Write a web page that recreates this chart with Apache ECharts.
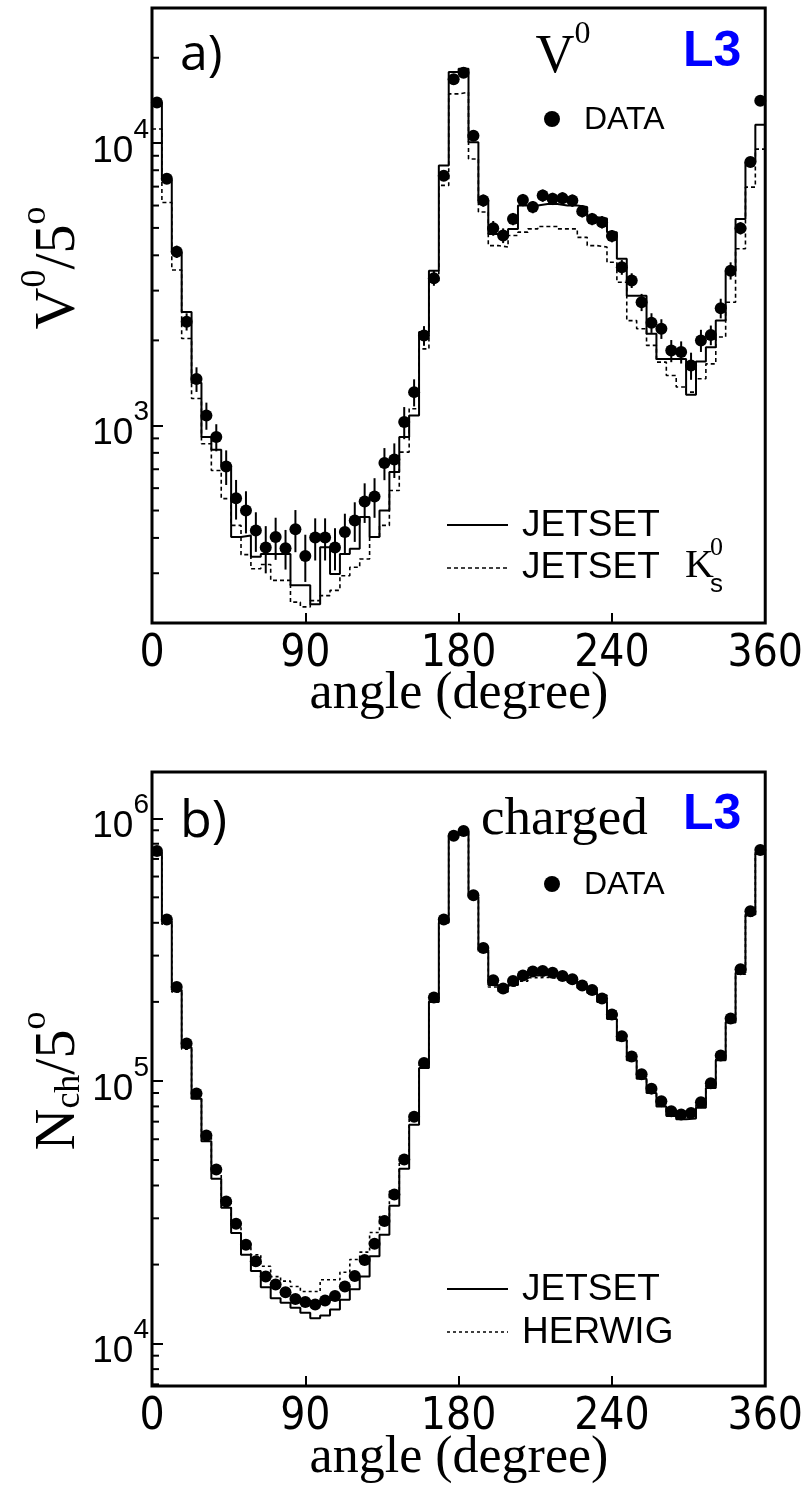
<!DOCTYPE html>
<html>
<head>
<meta charset="utf-8">
<script src="https://cdn.jsdelivr.net/npm/echarts@6/dist/echarts.min.js"></script>
<style>
html, body { margin: 0; padding: 0; background: #fff; }
#main { width: 806px; height: 1492px; }
</style>
</head>
<body>
<div id="main"></div>
<script>
// x axis: 0..360, tick labels as printed in the figure
var xTickLabels = ['0', '90', '180', '240', '360'];
var binCount = 62;

// a) V0
var v0Data = [13900, 7460, 4120, 2330, 1460, 1085, 910, 716, 553, 500,
        425, 370, 403, 368, 429, 345, 401, 401, 370, 420,
        461, 538, 561, 736, 758, 1028, 1312, 2080, 3320, 7650,
        16800, 17700, 10600, 6250, 4990, 4700, 5380, 6280, 5930, 6510,
        6340, 6370, 6250, 5730, 5380, 5240, 4680, 3630, 3260, 2730,
        2310, 2200, 1840, 1820, 1630, 2000, 2090, 2600, 3530, 4990,
        8550, 14100];
var v0DataErr = [0.03, 0.04, 0.05, 0.07, 0.10, 0.11, 0.11, 0.14, 0.16, 0.17,
        0.16, 0.19, 0.17, 0.16, 0.17, 0.19, 0.17, 0.17, 0.17, 0.16,
        0.16, 0.16, 0.16, 0.13, 0.14, 0.13, 0.11, 0.08, 0.06, 0.04,
        0.03, 0.03, 0.04, 0.05, 0.06, 0.06, 0.05, 0.05, 0.05, 0.05,
        0.05, 0.05, 0.05, 0.05, 0.05, 0.05, 0.05, 0.06, 0.06, 0.07,
        0.08, 0.08, 0.09, 0.09, 0.11, 0.09, 0.08, 0.08, 0.07, 0.05,
        0.04, 0.03];
var v0Jetset = [13800, 7400, 4100, 2520, 1416, 910, 820, 722, 403, 408,
        343, 351, 351, 351, 272, 272, 233, 371, 298, 351,
        366, 474, 403, 500, 684, 910, 1085, 2140, 3530, 8320,
        17800, 18300, 10050, 6250, 4760, 4760, 4960, 6000, 6000, 6080,
        6080, 6000, 6000, 5930, 5460, 5400, 4830, 3890, 2880, 2880,
        2110, 1720, 1720, 1720, 1284, 1683, 1890, 2350, 3530, 5380,
        8550, 11600];
var v0K0s = [11200, 6150, 3550, 2030, 1245, 862, 693, 551, 443, 349,
        311, 322, 283, 283, 237, 228, 240, 250, 261, 294,
        315, 337, 403, 443, 589, 805, 1146, 1867, 3210, 7070,
        14900, 15100, 8770, 5690, 4330, 4280, 4700, 4830, 4960, 5060,
        5060, 4960, 4960, 4630, 4330, 4280, 3780, 3210, 2350, 2200,
        1920, 1675, 1503, 1368, 1312, 1463, 1652, 2055, 2730, 4220,
        6970, 9500];
var v0MinorTicks = [200, 300, 400, 500, 600, 700, 800, 900,
        2000, 3000, 4000, 5000, 6000, 7000, 8000, 9000, 20000];

// b) charged
var nchData = [750000, 412000, 228000, 139000, 89600, 62000, 46000, 34800, 28600, 23800,
        20600, 18000, 16800, 15700, 14800, 14400, 14100, 14600, 15200, 16500,
        18100, 20800, 24000, 29300, 37000, 50200, 73100, 117000, 208000, 412000,
        857000, 895000, 509000, 321000, 242000, 225000, 240000, 252000, 261000, 262000,
        258000, 251000, 244000, 231000, 222000, 206000, 179000, 148000, 124000, 106000,
        93500, 83800, 76700, 74600, 75600, 83000, 98000, 125000, 173000, 266000,
        443000, 757000];
var nchJetset = [740000, 405000, 222000, 134000, 85500, 59000, 42400, 32900, 26400, 21800,
        18900, 16400, 14900, 14300, 13700, 13100, 12500, 12800, 13500, 14700,
        16100, 18000, 21500, 26000, 33500, 46300, 68200, 112000, 200000, 400000,
        860000, 890000, 500000, 315000, 232000, 224000, 232000, 245000, 252000, 254000,
        252000, 246000, 238000, 226000, 216000, 200000, 172000, 143000, 120000, 102000,
        90000, 80000, 73500, 71500, 72000, 79000, 94000, 120000, 167000, 258000,
        430000, 740000];
var nchHerwig = [730000, 395000, 218000, 132000, 86000, 61000, 45000, 34500, 28500, 24000,
        21800, 19700, 18000, 17300, 16500, 15800, 15800, 17500, 17500, 18700,
        20900, 22300, 26500, 30500, 38000, 50000, 72000, 115000, 205000, 405000,
        850000, 880000, 500000, 310000, 228000, 218000, 230000, 240000, 247000, 248000,
        246000, 242000, 238000, 232000, 226000, 212000, 185000, 150000, 124000, 104000,
        91000, 81000, 74500, 72500, 73500, 81000, 96000, 121000, 168000, 255000,
        425000, 730000];
var nchMinorTicks = [7000, 8000, 9000, 20000, 30000, 40000, 50000, 60000, 70000, 80000, 90000,
        200000, 300000, 400000, 500000, 600000, 700000, 800000, 900000];

var binW = 360 / binCount;
var SANS = '"Liberation Sans", Arial, sans-serif';
var NARROW = '"Liberation Sans Narrow", "Arial Narrow", "DejaVu Sans Condensed", "Liberation Sans", sans-serif';
var SERIF = '"Liberation Serif", "Times New Roman", serif';

function stepData(vals) {
        var out = [];
        for (var i = 0; i < vals.length; i++) out.push([i * binW, vals[i]]);
        out.push([vals.length * binW, vals[vals.length - 1]]);
        return out;
}
function pointData(vals) {
        return vals.map(function (v, i) { return [(i + 0.5) * binW, v]; });
}
function errData(vals, errs) {
        return vals.map(function (v, i) { return [(i + 0.5) * binW, v * (1 - errs[i]), v * (1 + errs[i])]; });
}

function xAxisFor(idx) {
        return {
                type: 'value', gridIndex: idx, min: 0, max: 360, interval: 90,
                axisLine: { show: false },
                splitLine: { show: false },
                axisTick: { inside: true, length: 10, lineStyle: { color: '#000', width: 2 } },
                axisLabel: {
                        margin: 10, color: '#000', fontSize: 44, fontFamily: NARROW,
                        formatter: function (v) { return xTickLabels[Math.round(v / 90)]; }
                }
        };
}
function yAxisFor(idx, min, max) {
        return {
                type: 'log', logBase: 10, gridIndex: idx, min: min, max: max,
                axisLine: { show: false },
                splitLine: { show: false },
                axisTick: { inside: true, length: 11, lineStyle: { color: '#000', width: 2 } },
                axisLabel: {
                        margin: 3, color: '#000',
                        formatter: function (v) {
                                var e = Math.log10(v);
                                if (Math.abs(e - Math.round(e)) > 1e-6) return '';
                                return '{b|10}{s|' + Math.round(e) + '}';
                        },
                        rich: {
                                b: { fontSize: 37, fontFamily: SANS, color: '#000', lineHeight: 54, verticalAlign: 'bottom' },
                                s: { fontSize: 28, fontFamily: SANS, color: '#000', lineHeight: 28, verticalAlign: 'top' }
                        }
                }
        };
}

function histSeries(idx, vals, dash) {
        return {
                type: 'line', xAxisIndex: idx, yAxisIndex: idx, step: 'end',
                data: stepData(vals), symbol: 'none', silent: true,
                lineStyle: { color: '#000', width: dash ? 1.6 : 2, type: dash || 'solid' }
        };
}
function minorTickSeries(idx, ticks) {
        return {
                type: 'custom', xAxisIndex: idx, yAxisIndex: idx, silent: true, clip: false,
                data: ticks.map(function (t) { return [0, t]; }),
                renderItem: function (params, api) {
                        var p = api.coord([0, api.value(1)]);
                        return { type: 'line', shape: { x1: p[0], y1: p[1], x2: p[0] + 7, y2: p[1] },
                                style: { stroke: '#000', lineWidth: 2 } };
                }
        };
}
function pointSeries(idx, vals) {
        return {
                type: 'scatter', xAxisIndex: idx, yAxisIndex: idx, data: pointData(vals),
                symbol: 'circle', symbolSize: 12, silent: true,
                itemStyle: { color: '#000', opacity: 1 }
        };
}

function serifRich(size, supSize) {
        return {
                m: { fontSize: size, fontFamily: SERIF, color: '#000', lineHeight: size + 12, verticalAlign: 'bottom' },
                s: { fontSize: supSize, fontFamily: SERIF, color: '#000', lineHeight: supSize, verticalAlign: 'top' },
                d: { fontSize: supSize, fontFamily: SERIF, color: '#000', lineHeight: supSize, verticalAlign: 'bottom' }
        };
}
function txt(x, y, text, font, color, align) {
        return { type: 'text', x: x, y: y, silent: true,
                style: { text: text, font: font, fill: color || '#000', align: align || 'left', verticalAlign: 'middle',
                        textAlign: align || 'left', textVerticalAlign: 'middle' } };
}
function richTxt(x, y, text, rich, rotation) {
        return { type: 'text', x: x, y: y, rotation: rotation || 0, silent: true,
                style: { text: text, rich: rich, align: 'center', verticalAlign: 'middle',
                        textAlign: 'center', textVerticalAlign: 'middle' } };
}
function legLine(x1, x2, y, dash) {
        return { type: 'line', silent: true, shape: { x1: x1, y1: y, x2: x2, y2: y },
                style: { stroke: '#000', lineWidth: dash ? 1.6 : 2, lineDash: dash || null } };
}

var myChart = echarts.init(document.getElementById('main'), null, { renderer: 'canvas' });

var option = {
        backgroundColor: '#fff',
        animation: false,
        grid: [
                { left: 152, top: 8, width: 615, height: 615, show: true, borderColor: '#000', borderWidth: 3, backgroundColor: 'transparent' },
                { left: 152, top: 772, width: 615, height: 614, show: true, borderColor: '#000', borderWidth: 3, backgroundColor: 'transparent' }
        ],
        xAxis: [xAxisFor(0), xAxisFor(1)],
        yAxis: [yAxisFor(0, 200, 30000), yAxisFor(1, 6900, 1500000)],
        series: [
                minorTickSeries(0, v0MinorTicks),
                histSeries(0, v0K0s, [4, 3]),
                histSeries(0, v0Jetset),
                {
                        type: 'custom', xAxisIndex: 0, yAxisIndex: 0, silent: true,
                        data: errData(v0Data, v0DataErr),
                        encode: { x: 0, y: [1, 2] },
                        renderItem: function (params, api) {
                                var a = api.coord([api.value(0), api.value(1)]);
                                var b = api.coord([api.value(0), api.value(2)]);
                                return { type: 'line', shape: { x1: a[0], y1: a[1], x2: b[0], y2: b[1] },
                                        style: { stroke: '#000', lineWidth: 2 } };
                        }
                },
                pointSeries(0, v0Data),

                minorTickSeries(1, nchMinorTicks),
                histSeries(1, nchHerwig, [3, 3]),
                histSeries(1, nchJetset),
                pointSeries(1, nchData)
        ],
        graphic: [
                // panel a)
                txt(180, 56, 'a)', '50px "Open Sans", "DejaVu Sans", sans-serif'),
                richTxt(563, 52, '{m|V}{s|0}', serifRich(54, 32)),
                txt(683, 52, 'L3', 'bold 50px ' + SANS, '#0000ff'),
                { type: 'circle', silent: true, shape: { cx: 552, cy: 119, r: 8 }, style: { fill: '#000' } },
                txt(584, 120, 'DATA', '32px ' + SANS),
                legLine(447, 508, 525),
                txt(522, 526, 'JETSET', '37px ' + SANS),
                legLine(447, 508, 568, [4, 3]),
                txt(522, 568, 'JETSET', '37px ' + SANS),
                txt(685, 566, 'K', '40px ' + SERIF),
                txt(710, 548, '0', '26px ' + SERIF),
                txt(710, 585, 's', '26px ' + SANS),
                richTxt(53, 268, '{m|V}{s|0}{m|/5}{s|o}', serifRich(58, 36), Math.PI / 2),
                txt(459, 694, 'angle (degree)', '52px ' + SERIF, '#000', 'center'),

                // panel b)
                txt(180, 822, 'b)', '52px "Open Sans", "DejaVu Sans", sans-serif'),
                txt(481, 820, 'charged', '53px ' + SERIF),
                txt(683, 815, 'L3', 'bold 50px ' + SANS, '#0000ff'),
                { type: 'circle', silent: true, shape: { cx: 552, cy: 884, r: 8 }, style: { fill: '#000' } },
                txt(584, 885, 'DATA', '32px ' + SANS),
                legLine(447, 508, 1289),
                txt(522, 1290, 'JETSET', '37px ' + SANS),
                legLine(447, 508, 1332, [3, 3]),
                txt(522, 1333, 'HERWIG', '37px ' + SANS),
                richTxt(53, 1081, '{m|N}{d|ch}{m|/5}{s|o}', serifRich(58, 36), Math.PI / 2),
                txt(459, 1458, 'angle (degree)', '52px ' + SERIF, '#000', 'center')
        ]
};
myChart.setOption(option);
</script>
</body>
</html>
